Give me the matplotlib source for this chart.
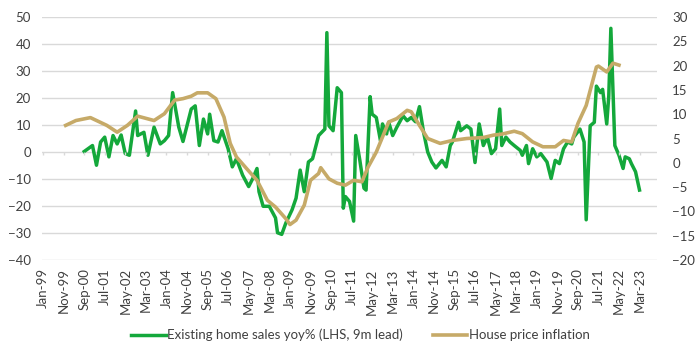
import numpy as np
import pandas as pd
import matplotlib
matplotlib.use("Agg")
import matplotlib.pyplot as plt
import matplotlib.dates as mdates

plt.rcParams['font.family'] = ['Lato', 'DejaVu Sans']

# existing home sales yoy% (LHS, 9m lead)
sales_dates = ['2000-09', '2001-01', '2001-03', '2001-05', '2001-07', '2001-09', '2001-11',
               '2002-01', '2002-03', '2002-05', '2002-07', '2002-10', '2002-11', '2003-02',
               '2003-04', '2003-07', '2003-10', '2003-12', '2004-02', '2004-04', '2004-07',
               '2004-09', '2005-01', '2005-03', '2005-05', '2005-07', '2005-09', '2005-10',
               '2005-12', '2006-02', '2006-04', '2006-07', '2006-09', '2006-11', '2007-02',
               '2007-05', '2007-07', '2007-09', '2007-10', '2007-12', '2008-03', '2008-06',
               '2008-07', '2008-09', '2008-11', '2009-02', '2009-04', '2009-06', '2009-08',
               '2009-10', '2009-12', '2010-03', '2010-06', '2010-07', '2010-08', '2010-10',
               '2010-12', '2011-02', '2011-03', '2011-04', '2011-06', '2011-08', '2011-09',
               '2011-11', '2012-01', '2012-02', '2012-04', '2012-05', '2012-07', '2012-09',
               '2012-10', '2012-12', '2013-01', '2013-03', '2013-05', '2013-08', '2013-10',
               '2013-12', '2014-02', '2014-04', '2014-06', '2014-08', '2014-10', '2014-12',
               '2015-03', '2015-05', '2015-07', '2015-08', '2015-11', '2015-12', '2016-03',
               '2016-05', '2016-07', '2016-09', '2016-11', '2017-01', '2017-03', '2017-05',
               '2017-07', '2017-08', '2017-10', '2017-12', '2018-02', '2018-05', '2018-06',
               '2018-08', '2018-09', '2018-11', '2019-01', '2019-03', '2019-06', '2019-08',
               '2019-10', '2019-12', '2020-02', '2020-04', '2020-06', '2020-07', '2020-10',
               '2020-12', '2021-01', '2021-03', '2021-05', '2021-06', '2021-08', '2021-09',
               '2021-11', '2021-12', '2022-01', '2022-03', '2022-05', '2022-07', '2022-08',
               '2022-10', '2022-11', '2023-01', '2023-03']
sales_vals = [0.2, 2.4, -4.9, 3.7, 5.5, -1.8, 6.1,
              3.0, 6.3, -0.6, -1.2, 15.2, 6.1, 7.3,
              -1.2, 9.2, 3.0, 4.2, 6.1, 22.0, 9.2,
              3.9, 15.9, 17.1, 2.4, 12.2, 6.7, 14.0,
              4.2, 3.7, 7.9, 1.2, -5.5, -2.5, -8.6,
              -12.8, -9.8, -6.1, -14.7, -20.1, -20.1, -24.4,
              -29.9, -30.5, -26.3, -21.4, -17.1, -6.7, -14.7,
              -3.7, -2.5, 6.1, 8.5, 44.2, 9.7, 7.9,
              23.8, 22.0, -20.8, -16.5, -18.3, -25.6, 6.1,
              -3.1, -13.4, -14.1, 20.5, 14.0, 12.8, 4.2,
              10.4, 6.7, 11.0, 6.1, 9.2, 13.4, 11.6,
              12.8, 11.2, 16.8, 7.3, 0.0, -3.7, -5.9,
              -3.1, -5.5, 2.4, 3.7, 11.0, 7.9, 9.7,
              8.5, -3.9, 10.4, 2.4, 5.5, -0.6, 1.2,
              15.9, 2.4, 5.5, 3.7, 2.4, 0.6, -1.2,
              2.4, -4.3, 1.2, -1.8, -0.6, -3.7, -9.8,
              -3.1, -4.3, 1.2, 3.7, 3.0, 5.5, 8.5,
              3.7, -25.1, 9.7, 11.0, 24.4, 22.0, 23.2,
              10.4, 20.7, 45.8, 2.4, -1.2, -6.1, -1.8,
              -2.5, -4.3, -7.3, -14.1]

# house price inflation (RHS)
hpi_dates = ['1999-12', '2000-05', '2000-12', '2001-08', '2002-01', '2002-06', '2002-11',
             '2003-07', '2003-12', '2004-05', '2004-09', '2005-01', '2005-04', '2005-09',
             '2006-01', '2006-05', '2006-08', '2006-11', '2007-04', '2007-09', '2008-02',
             '2008-06', '2008-11', '2009-01', '2009-04', '2009-08', '2009-11', '2010-03',
             '2010-04', '2010-08', '2010-12', '2011-04', '2011-08', '2011-12', '2012-03',
             '2012-07', '2012-10', '2013-01', '2013-05', '2013-10', '2013-12', '2014-04',
             '2014-08', '2015-02', '2015-08', '2016-03', '2016-11', '2017-04', '2017-08',
             '2018-02', '2018-06', '2018-11', '2019-04', '2019-10', '2020-02', '2020-06',
             '2020-09', '2021-01', '2021-06', '2021-07', '2021-11', '2022-02', '2022-05']
hpi_vals = [7.7, 8.7, 9.3, 7.7, 6.3, 7.7, 9.6,
            8.7, 10.1, 12.9, 13.2, 13.7, 14.4, 14.4,
            13.2, 9.4, 4.0, 1.2, -1.2, -3.6, -7.7,
            -9.1, -11.5, -12.7, -11.8, -8.7, -3.6, -2.2,
            -1.0, -3.3, -4.2, -4.6, -3.6, -3.9, -0.9,
            2.2, 5.3, 8.4, 9.1, 10.8, 10.5, 7.7,
            5.0, 4.0, 4.6, 5.0, 5.2, 5.7, 5.9,
            6.5, 6.0, 4.3, 3.3, 3.3, 4.6, 4.3,
            8.1, 11.8, 19.7, 19.9, 18.7, 20.5, 20.1]

sales_x = pd.to_datetime(sales_dates)
hpi_x = pd.to_datetime(hpi_dates)
tick_x = pd.date_range('1999-01-01', '2023-03-01', freq='10MS')

green = '#14A83B'
gold = '#C6AA68'
grid = '#D9D9D9'
txt = '#404040'

fig = plt.figure(figsize=(7, 3.58), dpi=100)
ax = fig.add_axes([0.06, 0.2737, 0.8786, 0.6788])
ax2 = ax.twinx()

ax.plot(sales_x, sales_vals, color=green, lw=2.5, label='Existing home sales yoy% (LHS, 9m lead)')
ax2.plot(hpi_x, hpi_vals, color=gold, lw=2.6, label='House price inflation')

ax.set_ylim(-40, 50)
ax.set_yticks(np.arange(-40, 51, 10))
ax2.set_ylim(-20, 30)
ax2.set_yticks(np.arange(-20, 31, 5))
ax.set_xlim(pd.Timestamp('1998-12-16'), pd.Timestamp('2023-11-15'))

ax.grid(axis='y', color=grid, lw=1)
ax.set_axisbelow(True)
ax.vlines(tick_x, -1.2, 0, color=grid, lw=1)

ax.set_xticks(tick_x)
ax.xaxis.set_major_formatter(mdates.DateFormatter('%b-%y'))
for a in (ax, ax2):
    for s in a.spines.values():
        s.set_visible(False)
ax.tick_params(axis='x', length=0, pad=6, labelrotation=90, labelsize=9.5, labelcolor=txt)
ax.tick_params(axis='y', length=0, pad=8, labelsize=9.5, labelcolor=txt)
ax2.tick_params(axis='y', length=0, pad=11, labelsize=9.5, labelcolor=txt)

h1, l1 = ax.get_legend_handles_labels()
h2, l2 = ax2.get_legend_handles_labels()
fig.legend(h1 + h2, l1 + l2, loc='center', bbox_to_anchor=(0.515, 0.064), ncol=2,
           frameon=False, fontsize=9.5, handlelength=2.6, handletextpad=0.1,
           columnspacing=2.3, labelcolor=txt)

fig.savefig('out.png', dpi=100)
